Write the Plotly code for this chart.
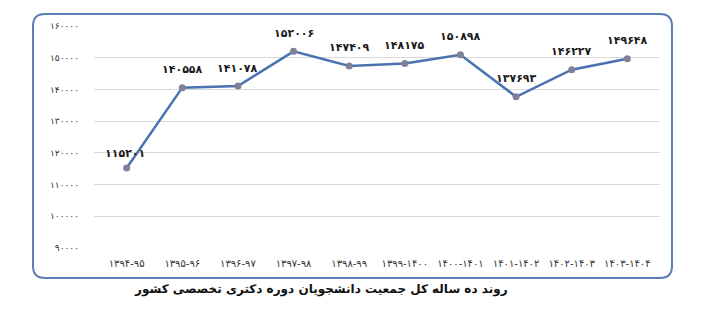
import plotly.graph_objects as go

categories = ["۱۳۹۴-۹۵", "۱۳۹۵-۹۶", "۱۳۹۶-۹۷", "۱۳۹۷-۹۸", "۱۳۹۸-۹۹",
              "۱۳۹۹-۱۴۰۰", "۱۴۰۰-۱۴۰۱", "۱۴۰۱-۱۴۰۲", "۱۴۰۲-۱۴۰۳", "۱۴۰۳-۱۴۰۴"]
values = [115201, 140558, 141078, 152006, 147409, 148175, 150898, 137693, 146227, 149648]
y_ticks = [90000, 100000, 110000, 120000, 130000, 140000, 150000, 160000]
title_text = "روند ده ساله کل جمعیت دانشجویان دوره دکتری تخصصی کشور"

fa = str.maketrans("0123456789", "۰۱۲۳۴۵۶۷۸۹")
def to_fa(v):
    return str(v).translate(fa)

W, H = 702, 317
L, R, T, B = 94, 660, 26, 248

fig = go.Figure()
fig.add_trace(go.Scatter(
    x=categories, y=values, mode="lines+markers",
    line=dict(color="#4a72b0", width=2.5),
    marker=dict(color="#80809a", size=7),
    cliponaxis=False, hoverinfo="skip",
))

for i, (c, v) in enumerate(zip(categories, values)):
    fig.add_annotation(x=c, y=v, text=to_fa(v), showarrow=False,
                       yshift=15 if i == 0 else 18, xshift=-2 if i == 0 else 0,
                       font=dict(family="DejaVu Sans", size=11, color="#1a1a1a", weight="bold"))

def px2paper(px, py):
    return (px - L) / (R - L), (B - py) / (B - T)

bx0, bx1, by0, by1, r = 33, 672, 14, 278, 12
def P(px, py):
    x, y = px2paper(px, py)
    return f"{x:.5f},{y:.5f}"
path = (f"M {P(bx0 + r, by0)} L {P(bx1 - r, by0)} Q {P(bx1, by0)} {P(bx1, by0 + r)} "
        f"L {P(bx1, by1 - r)} Q {P(bx1, by1)} {P(bx1 - r, by1)} "
        f"L {P(bx0 + r, by1)} Q {P(bx0, by1)} {P(bx0, by1 - r)} "
        f"L {P(bx0, by0 + r)} Q {P(bx0, by0)} {P(bx0 + r, by0)} Z")
fig.add_shape(type="path", path=path, xref="paper", yref="paper",
              line=dict(color="#5b7fb5", width=2), layer="below")

tx, ty = px2paper(321, 299)
fig.add_annotation(x=tx, y=ty, xref="paper", yref="paper", text=title_text,
                   showarrow=False, font=dict(family="DejaVu Sans", size=12, color="#111", weight="bold"))

fig.update_layout(
    width=W, height=H, margin=dict(l=L, r=W - R, t=T, b=H - B),
    paper_bgcolor="white", plot_bgcolor="white", showlegend=False,
    xaxis=dict(showgrid=False, showline=False, zeroline=False, ticks="",
               tickfont=dict(family="DejaVu Sans", size=10, color="#333"), ticklabelstandoff=8),
    yaxis=dict(range=[90000, 160000], tickvals=y_ticks, ticktext=[to_fa(v) for v in y_ticks],
               showgrid=True, gridcolor="#d9d9d9", gridwidth=1, zeroline=False, showline=False,
               tickfont=dict(family="DejaVu Sans", size=9, color="#333"), ticklabelstandoff=14),
)
fig.write_html("out.html")
